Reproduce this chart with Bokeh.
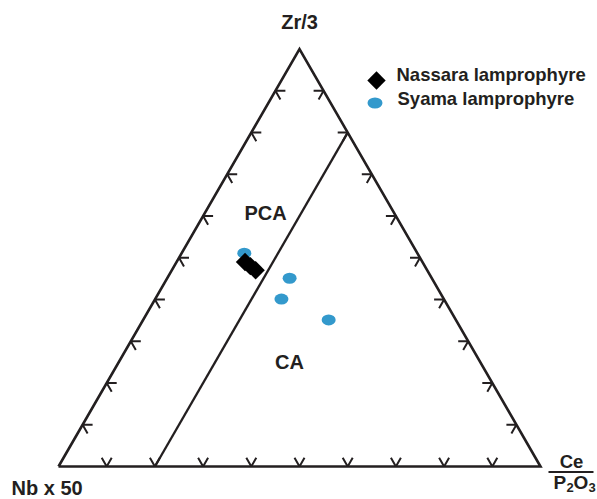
import numpy as np
from bokeh.plotting import figure
from bokeh.models import Range1d, Label
from bokeh.embed import file_html
from bokeh.resources import INLINE

# ---- data (ternary percentages: Zr/3, Nb x 50, Ce/P2O5) ----
nassara_zr3 = [49.0, 48.0, 47.0]
nassara_nb50 = [36.8, 36.2, 35.6]
nassara_cep = [14.2, 15.8, 17.4]

syama_zr3 = [51.1, 45.1, 40.1, 35.1]
syama_nb50 = [35.9, 29.5, 33.7, 26.4]
syama_cep = [13.0, 25.4, 26.2, 38.5]

tick_values = [10, 20, 30, 40, 50, 60, 70, 80, 90]
divider_cep = 20  # PCA / CA boundary (constant Ce/P2O5 share)

H = np.sqrt(3) / 2


def tern(zr, nb, ce):
    zr = np.asarray(zr, float); nb = np.asarray(nb, float); ce = np.asarray(ce, float)
    s = zr + nb + ce
    a = zr / s; c = ce / s
    return c + a / 2, a * H


S = 482.0  # pixels per data unit
p = figure(width=597, height=499, output_backend="svg", toolbar_location=None,
           x_range=Range1d(-58 / S, (597 - 58) / S),
           y_range=Range1d(-(499 - 466) / S, 466 / S),
           min_border=0, outline_line_color=None, background_fill_color="white",
           border_fill_color="white")
p.axis.visible = False
p.grid.visible = False

ink = "#231f20"

# triangle
tx, ty = tern([0, 0, 100, 0], [100, 0, 0, 100], [0, 100, 0, 0])
p.line(list(tx), list(ty), line_color=ink, line_width=2.6, line_join="miter")

# divider
dx, dy = tern([0, 100 - divider_cep], [100 - divider_cep, 0], [divider_cep, divider_cep])
p.line(list(dx), list(dy), line_color=ink, line_width=2.3)

# ticks
L = 10 / S
xs, ys = [], []
for t in tick_values:
    # left edge (Zr/3 = t, Nb = 100-t)
    x0, y0 = tern(t, 100 - t, 0)
    xs.append([x0 + L, x0, x0 + 0.5 * L]); ys.append([y0, y0, y0 - H * L])
    # right edge (Zr/3 = t, Ce = 100-t)
    x0, y0 = tern(t, 0, 100 - t)
    xs.append([x0 - L, x0, x0 - 0.5 * L]); ys.append([y0, y0, y0 - H * L])
    # bottom edge (Ce = t, Nb = 100-t)
    x0, y0 = tern(0, 100 - t, t)
    xs.append([x0 - 0.5 * L, x0, x0 + 0.5 * L]); ys.append([y0 + H * L, y0, y0 + H * L])
p.multi_line(xs, ys, line_color=ink, line_width=2)

blue = "#3399cc"
sx, sy = tern(syama_zr3, syama_nb50, syama_cep)
p.ellipse(x=sx, y=sy, width=14, height=11, width_units="screen", height_units="screen",
          fill_color=blue, line_color=None)
nx, ny = tern(nassara_zr3, nassara_nb50, nassara_cep)
p.scatter(x=nx, y=ny, marker="square", size=13, angle=np.pi / 4,
          fill_color="black", line_color=None)

# legend (manual)
p.scatter(x=[(376 - 58) / S], y=[(466 - 80) / S], marker="square", size=13, angle=np.pi / 4,
          fill_color="black", line_color=None)
p.ellipse(x=[(374.5 - 58) / S], y=[(466 - 102.5) / S], width=15, height=11,
          width_units="screen", height_units="screen", fill_color=blue, line_color=None)


def lab(text, px, py, size="20px", align="center"):
    p.add_layout(Label(x=(px - 58) / S, y=(466 - py) / S, text=text, text_font="Liberation Sans",
                       text_font_style="bold", text_font_size=size, text_color=ink,
                       text_align=align, text_baseline="middle"))


lab("Nassara lamprophyre", 396, 74, "18.5px", "left")
lab("Syama lamprophyre", 397, 98, "18.5px", "left")
lab("Zr/3", 299, 21)
lab("Nb x 50", 11, 487, align="left")
lab("Ce", 571, 461, "18.5px")
# P2O3 with subscripts
lab("P", 553, 482, "19px", "left")
lab("2", 566, 487, "13px", "left")
lab("O", 573, 482, "19px", "left")
lab("3", 588, 487, "13px", "left")
lab("PCA", 265, 212)
lab("CA", 289, 361)

# fraction bar under Ce
p.line([(548 - 58) / S, (593 - 58) / S], [(466 - 471.5) / S] * 2, line_color=ink, line_width=2)

open("out.html", "w").write(file_html(p, INLINE))
